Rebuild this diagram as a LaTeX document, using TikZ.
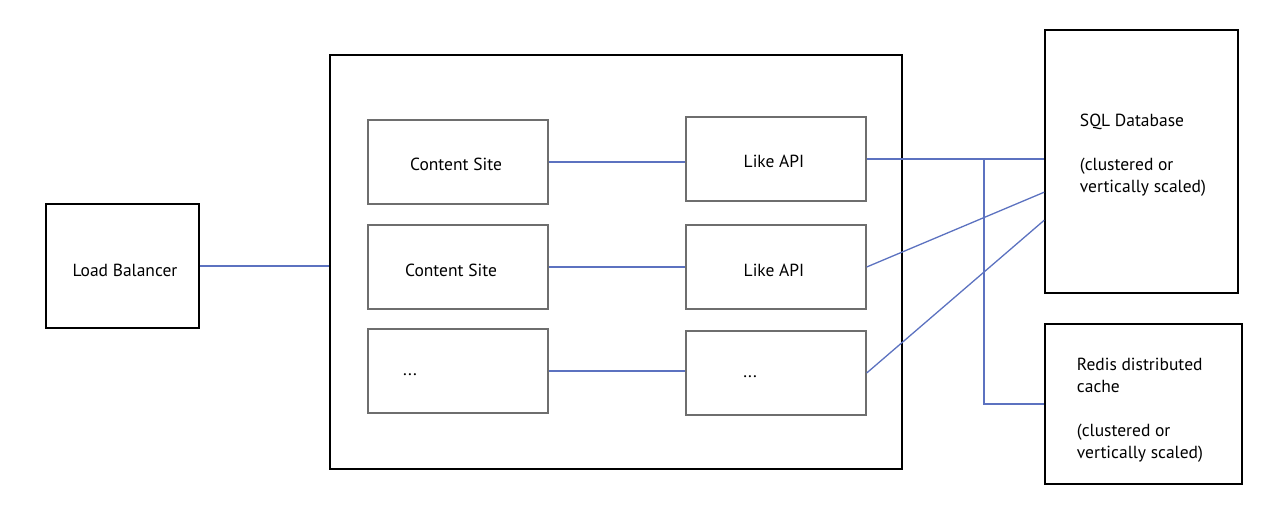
\documentclass[tikz,border=0pt]{standalone}
\usepackage{fontspec}
\setmainfont{PT Sans}
\usetikzlibrary{calc}
\definecolor{linkblue}{RGB}{92,114,192}
\definecolor{boxgray}{RGB}{110,110,110}

\begin{document}
\begin{tikzpicture}[x=1pt, y=-1pt,
	outer/.style={draw=black, line width=1.6pt, inner sep=0pt, font=\fontsize{17.5}{22}\selectfont},
	inner/.style={draw=boxgray, line width=1.4pt, inner sep=0pt, minimum width=180pt, minimum height=84pt, font=\fontsize{17.5}{22}\selectfont},
	txt/.style={inner sep=0pt, font=\fontsize{17.5}{22}\selectfont},
	link/.style={draw=linkblue, line width=1.3pt}]
			%%%%% START %%%%%
			\useasboundingbox (0, 0) rectangle (1280, 524);
			
			\node[outer, minimum width=153pt, minimum height=124pt] (lb) at (122.5, 266) {};
			\node[txt] at (125, 270) {Load Balancer};
			\node[outer, minimum width=572pt, minimum height=414pt] (farm) at (616, 262) {};
			
			\node[inner] (cs1) at (458, 162) {};
			\node[txt] at (456, 164) {Content Site};
			\node[inner] (cs2) at (458, 267) {};
			\node[txt] at (451, 270) {Content Site};
			\node[inner] (cs3) at (458, 371) {};
			\node[txt] at (410, 375) {...};
			
			\node[inner] (api1) at (776, 159) {};
			\node[txt] at (774, 161) {Like API};
			\node[inner] (api2) at (776, 267) {};
			\node[txt] at (774, 270) {Like API};
			\node[inner] (api3) at (776, 373) {};
			\node[txt] at (750, 377) {...};
			
			\node[outer, minimum width=193pt, minimum height=263pt] (sql) at (1141.5, 161.5) {};
			\node[txt, align=left] at (1143, 155) {SQL Database\\[22pt](clustered or\\vertically scaled)};
			\node[outer, minimum width=197pt, minimum height=160pt] (redis) at (1143.5, 404) {};
			\node[txt, align=left] at (1140, 410) {Redis distributed\\cache\\[22pt](clustered or\\vertically scaled)};
			
			\coordinate (tap) at (984, 404);
			\coordinate (sqlin2) at ($(sql.north west)!0.616!(sql.south west)$);
			\coordinate (sqlin3) at ($(sql.north west)!0.722!(sql.south west)$);
			
			\draw[link] (lb.east) -- (lb.east -| farm.west);
			\draw[link] (cs1.east) -- (cs1.east -| api1.west);
			\draw[link] (cs2.east) -- (cs2.east -| api2.west);
			\draw[link] (cs3.east) -- (cs3.east -| api3.west);
			
			\draw[link] (api1.east) -- (api1.east -| sql.west);
			\draw[link] (api2.east) -- (sqlin2);
			\draw[link] (api3.east) -- (sqlin3);
			\draw[link] (api1.east -| tap) |- (redis.west);
			
			%%%%% END %%%%%
\end{tikzpicture}
\end{document}
